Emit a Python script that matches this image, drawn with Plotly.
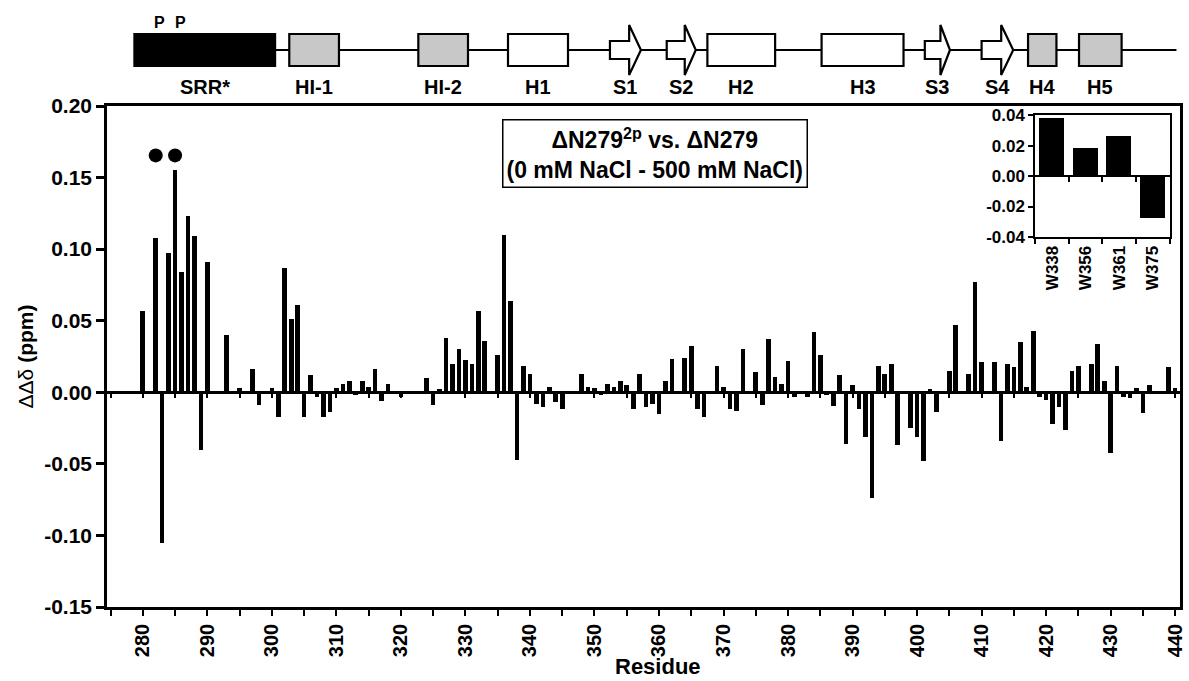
import plotly.graph_objects as go

# ---------------- data ----------------
residues = [280, 282, 283, 284, 285, 286, 287, 288, 289, 290, 293, 295, 297, 298, 300,
            301, 302, 303, 304, 305, 306, 307, 308, 309, 310, 311, 312, 313, 314, 315,
            316, 317, 318, 320, 324, 325, 326, 327, 328, 329, 330, 331, 332, 333, 335,
            336, 337, 338, 339, 340, 341, 342, 343, 344, 345, 348, 349, 350, 351, 352,
            353, 354, 355, 356, 357, 358, 359, 360, 361, 362, 364, 365, 366, 367, 369,
            370, 371, 372, 373, 375, 376, 377, 378, 379, 380, 381, 383, 384, 385, 386,
            387, 388, 389, 390, 391, 392, 393, 394, 395, 396, 397, 399, 400, 401, 402,
            403, 405, 406, 408, 409, 410, 411, 412, 413, 414, 415, 416, 417, 418, 419,
            420, 421, 422, 423, 424, 425, 427, 428, 429, 430, 431, 432, 433, 434, 435,
            436, 439, 440]
ddd = [0.057, 0.108, -0.105, 0.097, 0.155, 0.084, 0.123, 0.109, -0.040, 0.091, 0.040, 0.003, 0.016, -0.009, 0.003,
       -0.0175, 0.087, 0.051, 0.061, -0.0175, 0.012, -0.003, -0.0175, -0.0135, 0.003, 0.006, 0.008, -0.002, 0.008, 0.004,
       0.016, -0.006, 0.006, -0.003, 0.010, -0.009, 0.002, 0.038, 0.0195, 0.030, 0.0225, 0.020, 0.057, 0.036, 0.026,
       0.110, 0.064, -0.047, 0.0185, 0.013, -0.008, -0.0105, 0.0035, -0.007, -0.0115, 0.013, 0.0035, 0.003, -0.002, 0.0055,
       0.0035, 0.008, 0.005, -0.012, 0.013, -0.0105, -0.0085, -0.015, 0.008, 0.023, 0.024, 0.032, -0.012, -0.0175, 0.0185,
       0.0035, -0.012, -0.013, 0.030, 0.0145, -0.009, 0.0375, 0.011, 0.006, 0.022, -0.003, -0.0035, 0.042, 0.026, -0.0017,
       -0.0095, 0.012, -0.036, 0.005, -0.0115, -0.031, -0.074, 0.0185, 0.013, 0.020, -0.037, -0.025, -0.031, -0.048, 0.002,
       -0.0135, 0.015, 0.047, 0.013, 0.077, 0.021, -0.0015, 0.021, -0.034, 0.0195, 0.0175, 0.035, 0.004, 0.043, -0.0035,
       -0.0055, -0.022, -0.010, -0.026, 0.015, 0.0185, 0.0195, 0.034, 0.008, -0.0425, 0.0185, -0.003, -0.004, 0.003, -0.0145,
       0.005, 0.0175, 0.003]

dot_residues = [282, 285]
dot_values = [0.1655, 0.1655]

inset_labels = ["W338", "W356", "W361", "W375"]
inset_values = [0.038, 0.018, 0.026, -0.028]

y_ticks = [-0.15, -0.10, -0.05, 0.00, 0.05, 0.10, 0.15, 0.20]
y_ticktext = ["-0.15", "-0.10", "-0.05", "0.00", "0.05", "0.10", "0.15", "0.20"]
x_ticks = [280, 290, 300, 310, 320, 330, 340, 350, 360, 370, 380, 390, 400, 410, 420, 430, 440]
inset_ticks = [-0.04, -0.02, 0.00, 0.02, 0.04]
inset_ticktext = ["-0.04", "-0.02", "0.00", "0.02", "0.04"]

domain_names = ["SRR*", "HI-1", "HI-2", "H1", "S1", "S2", "H2", "H3", "S3", "S4", "H4", "H5"]
domain_start = [278.7, 302.7, 322.7, 336.6, 352.4, 361.2, 367.5, 385.2, 401.2, 410.0, 417.2, 425.1]
domain_end = [300.5, 310.4, 330.4, 345.9, 357.2, 365.7, 378.0, 397.9, 405.1, 414.9, 421.6, 431.7]
domain_kind = ["srr", "gray", "gray", "helix", "strand", "strand", "helix", "helix",
               "strand", "strand", "gray", "gray"]
line_start, line_end = 300.5, 440.2
phospho_sites = [282.6, 285.8]

# ---------------- figure ----------------
FONT = "Liberation Sans, Arial, sans-serif"
W, H = 1189, 681
ML, MR, MT, MB = 107, 3, 106, 74
PW, PH = W - ML - MR, H - MT - MB

def bold(lst):
    return [f"<b>{t}</b>" for t in lst]

fig = go.Figure()
fig.add_trace(go.Bar(x=residues, y=ddd, width=0.72, marker=dict(color="black", line=dict(width=0)),
                     xaxis="x", yaxis="y", showlegend=False))
fig.add_trace(go.Scatter(x=dot_residues, y=dot_values, mode="markers",
                         marker=dict(color="black", size=14), xaxis="x", yaxis="y", showlegend=False))
fig.add_trace(go.Bar(x=inset_labels, y=inset_values, width=0.74,
                     marker=dict(color="black", line=dict(width=0)),
                     xaxis="x3", yaxis="y3", showlegend=False))

yr = [-0.15, 0.20]
zero_pos = (0 - yr[0]) / (yr[1] - yr[0])
in_dom_y = [0.7387, 0.9813]
in_zero = in_dom_y[0] + 0.5 * (in_dom_y[1] - in_dom_y[0])

fig.update_layout(
    width=W, height=H,
    margin=dict(l=ML, r=MR, t=MT, b=MB),
    paper_bgcolor="white", plot_bgcolor="white",
    bargap=0,
    xaxis=dict(range=[274.45, 440.75], domain=[0, 1], tickvals=x_ticks,
               ticktext=bold([str(v) for v in x_ticks]),
               ticks="outside", ticklen=6, tickwidth=2, tickcolor="black",
               minor=dict(dtick=5, tick0=280, ticks="outside", ticklen=6, tickwidth=2, tickcolor="black"),
               showline=True, linewidth=2.5, linecolor="black", mirror=True,
               showgrid=False, zeroline=False, tickangle=-90,
               tickfont=dict(family=FONT, size=20, color="black"), anchor="y"),
    yaxis=dict(range=yr, domain=[0, 1], tickvals=y_ticks, ticktext=bold(y_ticktext),
               ticks="outside", ticklen=8, tickwidth=2.5, tickcolor="black",
               showline=True, linewidth=2.5, linecolor="black", mirror=True,
               showgrid=False, zeroline=False,
               tickfont=dict(family=FONT, size=21, color="black"), anchor="x"),
    # axis along zero line with small downward ticks every 5 residues
    xaxis2=dict(range=[274.45, 440.75], overlaying="x", anchor="free", position=zero_pos,
                side="bottom", tick0=280, dtick=5, ticks="outside", ticklen=4, tickwidth=2,
                tickcolor="black", showticklabels=False, showline=True, linewidth=2.5,
                linecolor="black", showgrid=False, zeroline=False),
    # inset
    xaxis3=dict(domain=[0.8652, 0.9903], anchor="y3", type="category",
                ticks="outside", tickson="boundaries", ticklen=5, tickwidth=2, tickcolor="black",
                showline=True, linewidth=2, linecolor="black", mirror=True, showgrid=False,
                tickangle=-90, tickvals=inset_labels, ticktext=bold(inset_labels),
                tickfont=dict(family=FONT, size=17, color="black")),
    yaxis3=dict(domain=in_dom_y, anchor="x3", range=[-0.04, 0.04],
                tickvals=inset_ticks, ticktext=bold(inset_ticktext),
                ticks="outside", ticklen=5, tickwidth=2, tickcolor="black",
                showline=True, linewidth=2, linecolor="black", mirror=True, showgrid=False,
                zeroline=False,
                tickfont=dict(family=FONT, size=17, color="black")),
    xaxis4=dict(domain=[0.8652, 0.9903], overlaying="x3", anchor="free", position=in_zero,
                range=[-0.5, 3.5], tickvals=[0.5, 1.5, 2.5], ticks="outside", ticklen=5,
                tickwidth=2, tickcolor="black", showticklabels=False, showline=True,
                linewidth=2, linecolor="black", showgrid=False, zeroline=False),
)
# invisible helpers so the overlay axes (zero lines with ticks) are drawn
fig.add_trace(go.Scatter(x=[300], y=[None], xaxis="x2", yaxis="y", showlegend=False, hoverinfo="skip"))
fig.add_trace(go.Scatter(x=[0], y=[None], xaxis="x4", yaxis="y3", showlegend=False, hoverinfo="skip"))

shapes = []
annotations = []

def py(p):
    return (H - MB - p) / PH

def px(p):
    return (p - ML) / PW

# domain diagram
y_line = py(50)
box_top, box_bot = py(34), py(66)
body_top, body_bot = py(41), py(59)
head_top, head_bot = py(25), py(75)
shapes.append(dict(type="line", xref="x", yref="paper", x0=line_start, x1=line_end,
                   y0=y_line, y1=y_line, line=dict(color="black", width=2), layer="above"))
for name, s, e, k in zip(domain_names, domain_start, domain_end, domain_kind):
    if k == "strand":
        xh = s + 0.62 * (e - s)
        path = (f"M {s},{body_top} L {xh},{body_top} L {xh},{head_top} L {e},{y_line} "
                f"L {xh},{head_bot} L {xh},{body_bot} L {s},{body_bot} Z")
        shapes.append(dict(type="path", xref="x", yref="paper", path=path,
                           fillcolor="white", line=dict(color="black", width=2.2), layer="above"))
    else:
        fill = {"srr": "black", "gray": "#c8c8c8", "helix": "white"}[k]
        shapes.append(dict(type="rect", xref="x", yref="paper", x0=s, x1=e, y0=box_bot, y1=box_top,
                           fillcolor=fill, line=dict(color="black", width=2.2), layer="above"))
    annotations.append(dict(x=(s + e) / 2, y=py(87), xref="x", yref="paper", text=f"<b>{name}</b>",
                            showarrow=False, font=dict(family=FONT, size=20, color="black"),
                            xanchor="center", yanchor="middle"))
for p in phospho_sites:
    annotations.append(dict(x=p, y=py(22), xref="x", yref="paper", text="<b>P</b>", showarrow=False,
                            font=dict(family=FONT, size=16, color="black"),
                            xanchor="center", yanchor="middle"))

# title box
annotations.append(dict(x=px((497 + 820) / 2), y=py(153), xref="paper", yref="paper",
                        text="<b>ΔN279<sup>2p</sup> vs. ΔN279</b><br><b>(0 mM NaCl - 500 mM NaCl)</b>",
                        showarrow=False, font=dict(family=FONT, size=23, color="black"),
                        bordercolor="black", borderwidth=1.5, borderpad=3, bgcolor="white",
                        xanchor="center", yanchor="middle", align="center"))

# axis titles
annotations.append(dict(x=px(25), y=py(356), xref="paper", yref="paper",
                        text="ΔΔδ <b>(ppm)</b>", textangle=-90, showarrow=False,
                        font=dict(family=FONT, size=21, color="black"),
                        xanchor="center", yanchor="middle"))
annotations.append(dict(x=px(661), y=py(666), xref="paper", yref="paper",
                        text="<b>Residue</b>", showarrow=False,
                        font=dict(family=FONT, size=22, color="black"),
                        xanchor="center", yanchor="middle"))

fig.update_layout(shapes=shapes, annotations=annotations)

fig.write_html("out.html", config={"displayModeBar": False},
               post_script="document.body.style.margin='0';")
